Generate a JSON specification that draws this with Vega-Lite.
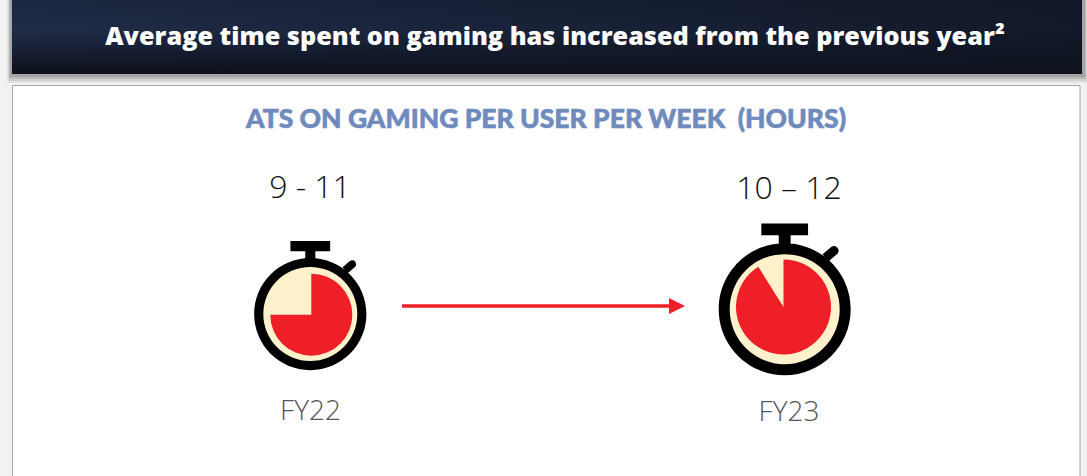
{"$schema":"https://vega.github.io/schema/vega-lite/v6.json","width":1087,"height":476,"padding":0,"autosize":{"type":"none"},"background":"#f2f2f2","config":{"view":{"stroke":null}},
"datasets":{"watches":[{"fy":22,"year":"FY22","hours":"9 - 11","start":0,"elapsed":0.75},{"fy":23,"year":"FY23","hours":"10 – 12","start":0,"elapsed":0.911}],"header":[{"title":"Average time spent on gaming has increased from the previous year²"}],"sub":[{"title":"ATS ON GAMING PER USER PER WEEK \u00a0(HOURS)"}],"one":[{"part":"chrome"}]},
"data":{"name":"watches"},
"layer":[
{"data":{"name":"one"},"mark":{"type":"rect","x":7,"x2":1088,"y":0,"y2":83,"fill":"#000","opacity":0.06},"encoding":{}},
{"data":{"name":"one"},"mark":{"type":"rect","x":8,"x2":1087,"y":0,"y2":81,"fill":"#000","opacity":0.08},"encoding":{}},
{"data":{"name":"one"},"mark":{"type":"rect","x":9,"x2":1086,"y":0,"y2":79,"fill":"#000","opacity":0.1},"encoding":{}},
{"data":{"name":"one"},"mark":{"type":"rect","x":10,"x2":1085,"y":0,"y2":77,"fill":"#000","opacity":0.12},"encoding":{}},
{"data":{"name":"one"},"mark":{"type":"rect","x":12,"x2":1082,"y":0,"y2":74,"color":{"gradient":"linear","x1":0,"y1":0,"x2":0,"y2":1,"stops":[{"offset":0,"color":"#1b2640"},{"offset":0.4,"color":"#202c47"},{"offset":0.75,"color":"#151c2f"},{"offset":1,"color":"#0d111b"}]}},"encoding":{}},
{"data":{"name":"one"},"mark":{"type":"rect","x":12,"x2":1082,"y":0,"y2":74,"color":{"gradient":"linear","x1":0,"y1":0,"x2":1,"y2":0,"stops":[{"offset":0,"color":"rgba(14,18,30,0)"},{"offset":1,"color":"rgba(14,18,30,0.75)"}]}},"encoding":{}},
{"data":{"name":"one"},"mark":{"type":"rect","x":12.5,"x2":1080,"y":85.5,"y2":480,"fill":"#ffffff","stroke":"#a6a6a6","strokeWidth":1},"encoding":{}},
{"data":{"name":"header"},"mark":{"type":"text","x":555,"y":37,"align":"center","baseline":"middle","font":"Open Sans","fontWeight":800,"fontSize":25.25,"fill":"#ffffff"},"encoding":{"text":{"field":"title"}}},
{"data":{"name":"sub"},"mark":{"type":"text","x":546,"y":120,"align":"center","baseline":"middle","font":"Lato","fontWeight":900,"fontSize":26.5,"fill":"#6f8bbd","stroke":"#6f8bbd","strokeWidth":0.6},"encoding":{"text":{"field":"title"}}},
{"mark":{"type":"point","filled":true,"fill":"#000000","opacity":1,"shape":"M-1,0A1,1 0 1 1 1,0A1,1 0 1 1 -1,0ZM-0.354,-1.3H0.354V-1.12H-0.354ZM-0.09,-1.13H0.09V-0.9H-0.09ZM0.5745,-0.833L0.7045,-0.943A0.07,0.07 0 0 1 0.7955,-0.837L0.6655,-0.727Z"},"encoding":{"x":{"field":"fy","type":"quantitative","axis":null,"scale":{"domain":[22,23],"range":[310.3,784.7]}},"y":{"field":"fy","type":"quantitative","axis":null,"scale":{"domain":[22,23],"range":[314,309.2]}},"size":{"field":"fy","type":"quantitative","legend":null,"scale":{"domain":[22,23],"range":[12600,17424]}}}},
{"mark":{"type":"point","filled":true,"fill":"#fff1cc","opacity":1,"shape":"circle"},"encoding":{"x":{"field":"fy","type":"quantitative","axis":null,"scale":{"domain":[22,23],"range":[310.3,784.7]}},"y":{"field":"fy","type":"quantitative","axis":null,"scale":{"domain":[22,23],"range":[314,309.2]}},"size":{"field":"fy","type":"quantitative","legend":null,"scale":{"domain":[22,23],"range":[8836,12100]}}}},
{"mark":{"type":"arc","fill":"#ee1f27"},"encoding":{"x":{"field":"fy","type":"quantitative","axis":null,"scale":{"domain":[22,23],"range":[311.3,783.5]}},"y":{"field":"fy","type":"quantitative","axis":null,"scale":{"domain":[22,23],"range":[314.7,307]}},"radius":{"field":"fy","type":"quantitative","legend":null,"scale":{"type":"linear","domain":[22,23],"range":[41,47.5]}},"radius2":{"value":0},"theta":{"field":"start","type":"quantitative","stack":null,"scale":{"domain":[0,1],"range":[0,6.28319]}},"theta2":{"field":"elapsed"}}},
{"mark":{"type":"text","align":"center","baseline":"middle","font":"Open Sans","fontWeight":300,"fontSize":32,"fill":"#111111"},"encoding":{"x":{"field":"fy","type":"quantitative","axis":null,"scale":{"domain":[22,23],"range":[310,789]}},"y":{"field":"fy","type":"quantitative","axis":null,"scale":{"domain":[22,23],"range":[187.5,188.5]}},"text":{"field":"hours"}}},
{"mark":{"type":"text","align":"center","baseline":"middle","font":"Open Sans","fontWeight":300,"fontSize":28,"fill":"#555555"},"encoding":{"x":{"field":"fy","type":"quantitative","axis":null,"scale":{"domain":[22,23],"range":[310.5,789]}},"y":{"field":"fy","type":"quantitative","axis":null,"scale":{"domain":[22,23],"range":[411.5,412.5]}},"text":{"field":"year"}}},
{"mark":{"type":"line","stroke":"#ee1f27","strokeWidth":3.5},"encoding":{"x":{"field":"fy","type":"quantitative","axis":null,"scale":{"domain":[22,23],"range":[402,672]}},"y":{"value":306}}},
{"data":{"name":"one"},"mark":{"type":"point","filled":true,"fill":"#ee1f27","opacity":1,"shape":"M-1,-1L1,0L-1,1Z","x":677,"y":306,"size":256},"encoding":{}}
],
"resolve":{"scale":{"x":"independent","y":"independent","size":"independent","radius":"independent","theta":"independent"},"axis":{"x":"independent","y":"independent"}}}
